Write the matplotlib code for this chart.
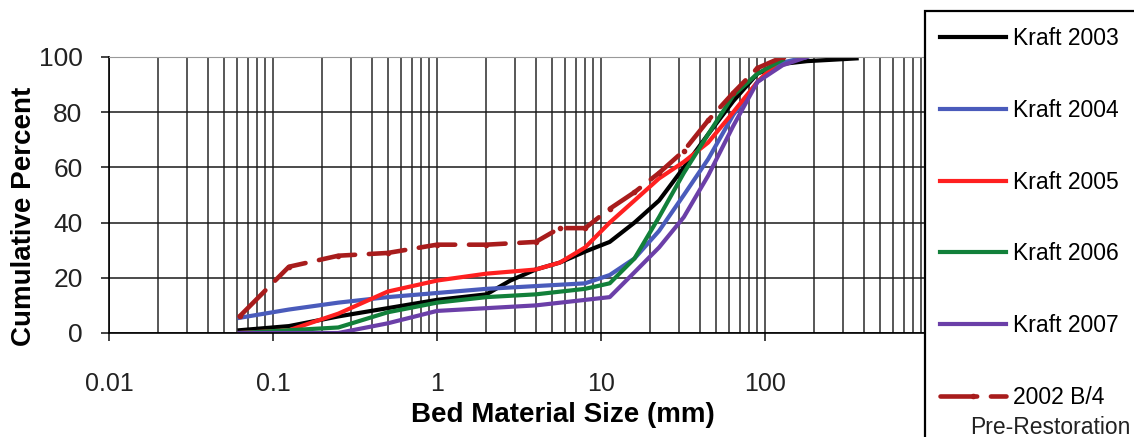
import matplotlib
matplotlib.use("Agg")
import matplotlib.pyplot as plt
from matplotlib.ticker import LogLocator, NullFormatter, FixedLocator
from matplotlib.patches import Rectangle

plt.rcParams['font.family'] = ['Liberation Sans', 'DejaVu Sans']

# grain size (mm) and cumulative percent finer
size_2003 = [0.0625, 0.125, 0.25, 0.5, 1, 2, 2.8, 4, 5.6, 8, 11.3, 16, 22.6, 32, 45, 64, 90, 128, 180, 256, 362]
pct_2003 = [1, 2.5, 6, 9, 12, 14, 19, 23, 25.5, 29.5, 33, 40, 48, 60, 72, 84, 94, 97.5, 98.5, 99, 99.5]

size_2004 = [0.0625, 0.125, 0.25, 0.5, 1, 2, 4, 8, 11.3, 16, 22.6, 32, 45, 64, 90, 128, 180]
pct_2004 = [5.5, 8.5, 11, 13, 14.5, 16, 17, 18, 21, 27, 37, 50, 63, 79, 91, 98, 100]

size_2005 = [0.0625, 0.125, 0.25, 0.5, 1, 2, 4, 5.6, 8, 11.3, 16, 22.6, 32, 45, 64, 90, 128]
pct_2005 = [0, 1, 7, 15, 19, 21.5, 23, 25.5, 31, 40, 48, 56, 62, 69, 80, 91, 100]

size_2006 = [0.0625, 0.125, 0.25, 0.5, 1, 2, 4, 8, 11.3, 16, 22.6, 32, 45, 64, 90, 128]
pct_2006 = [0, 1, 2, 7.5, 11, 13, 14, 16, 18, 27, 42, 58, 72, 86, 94, 99]

size_2007 = [0.0625, 0.125, 0.25, 0.5, 1, 2, 4, 8, 11.3, 16, 22.6, 32, 45, 64, 90, 128, 180]
pct_2007 = [0, 0, 0, 3.5, 8, 9, 10, 12, 13, 22, 31, 42, 57, 75, 91, 97, 100]

size_2002 = [0.0625, 0.125, 0.25, 0.5, 1, 2, 4, 5.6, 8, 11.3, 16, 22.6, 32, 45, 64, 90, 128]
pct_2002 = [6, 24, 28, 29, 32, 32, 33, 38, 38, 45, 51, 58, 66, 77, 87, 96, 100]

xticks = [0.01, 0.1, 1, 10, 100]
xticklabels = ['0.01', '0.1', '1', '10', '100']
yticks = [0, 20, 40, 60, 80, 100]

W, H = 1134, 437
fig = plt.figure(figsize=(W / 100, H / 100), dpi=100)
ax = fig.add_axes([109 / W, 104 / H, 820 / W, 276 / H])

lw = 3.0
ax.plot(size_2003, pct_2003, color='#000000', lw=lw, label='Kraft 2003')
ax.plot(size_2004, pct_2004, color='#4a5bbb', lw=lw, label='Kraft 2004')
ax.plot(size_2005, pct_2005, color='#ff2020', lw=lw, label='Kraft 2005')
ax.plot(size_2006, pct_2006, color='#12803a', lw=lw, label='Kraft 2006')
ax.plot(size_2007, pct_2007, color='#6b3fa8', lw=lw, label='Kraft 2007')
ax.plot(size_2002, pct_2002, color='#a81c1c', lw=3.3, ls=(0, (8, 3)),
        dash_capstyle='round', marker='o', ms=3, label='2002 B/4')

ax.set_xscale('log')
ax.set_xlim(0.01, 1000)
ax.set_ylim(0, 100)
ax.xaxis.set_major_locator(FixedLocator(xticks))
ax.set_xticklabels(xticklabels)
ax.xaxis.set_minor_locator(LogLocator(base=10, subs=range(2, 10), numticks=20))
ax.xaxis.set_minor_formatter(NullFormatter())
ax.set_yticks(yticks)

ax.grid(which='major', axis='x', color='#2a2a2a', lw=1.1)
ax.grid(which='minor', axis='x', color='#2a2a2a', lw=1.1)
ax.grid(which='major', axis='y', color='#1a1a1a', lw=1.1)
ax.set_axisbelow(True)

ax.tick_params(axis='x', which='major', length=6, width=1.2, pad=22, labelsize=18, colors='#222222')
ax.tick_params(axis='x', which='minor', length=0)
ax.tick_params(axis='y', length=6, width=1.2, pad=13, labelsize=19, colors='#222222')
ax.spines['top'].set_color('#999999')
ax.spines['left'].set_linewidth(1.2)
ax.spines['bottom'].set_linewidth(1.2)

ax.set_xlabel('Bed Material Size (mm)', fontsize=20, fontweight='bold')
ax.xaxis.set_label_coords(0.554, -0.25)
ax.set_ylabel('Cumulative Percent', fontsize=20, fontweight='bold')
ax.yaxis.set_label_coords(-0.088, 0.424)

# legend box running off the right and bottom edges
fig.add_artist(Rectangle((925 / W, -0.1), 0.3, 1.1 - 11 / H, transform=fig.transFigure,
                         facecolor='white', edgecolor='black', lw=1.6, clip_on=False))
fig.legend(loc='upper left', bbox_to_anchor=(940 / W, 1 - 27 / H), frameon=False,
           fontsize=16.5, handlelength=2.9, handletextpad=0.3, labelspacing=2.13,
           borderpad=0, borderaxespad=0)
fig.text(1050 / W, 1 - 427 / H, 'Pre-Restoration', fontsize=16.5, ha='center', va='center',
         color='#222222')

fig.savefig('out.png', dpi=100)
